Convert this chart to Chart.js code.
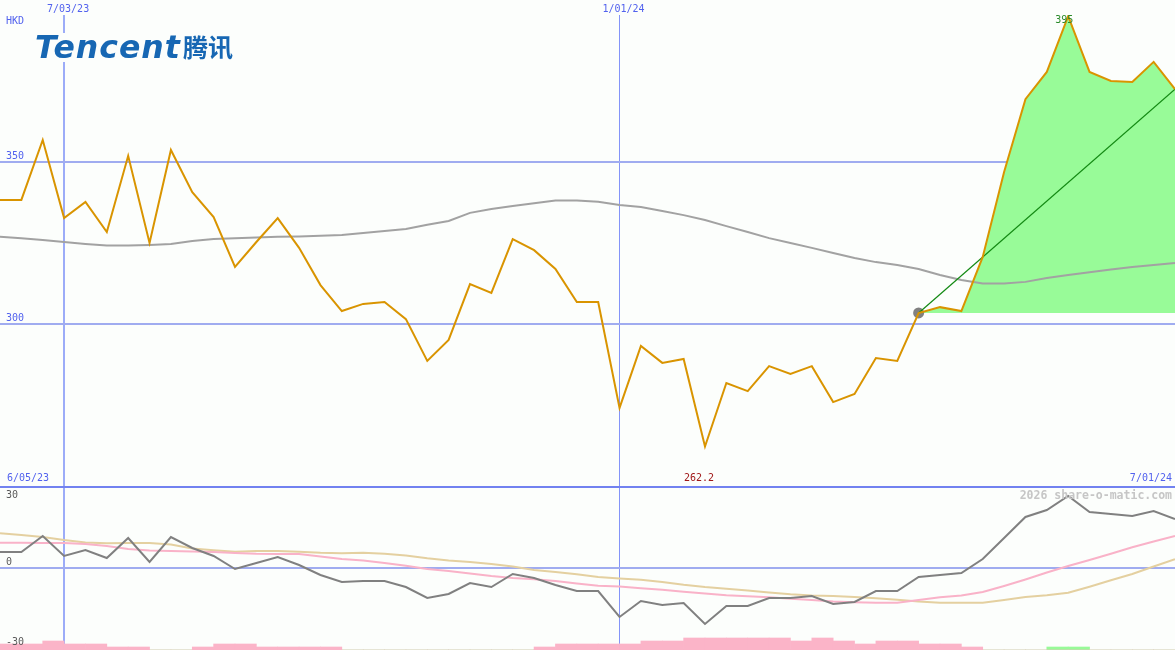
<!DOCTYPE html>
<html lang="en">
<head>
<meta charset="UTF-8">
<title>Tencent HKD</title>
<script src="https://cdn.jsdelivr.net/npm/chart.js"></script>
<style>
    body{
        margin: 0;
        background: #fcfefc;
    }
    #wrap{ position: relative; width: 1175px; height: 650px; overflow: hidden; background: #fcfefc; }
    #top{ position: absolute; left: 0; top: 0; width: 1175px; height: 487px; }
    #bottom{ position: absolute; left: 0; top: 486px; width: 1175px; height: 162px; border-top: 2px solid #7282f0; }
    .logo{ position: absolute; left: 34px; top: 33px; width: 202px; height: 29px; background: #fcfefc; color: #1767b3; }
    .logo .en{ position: absolute; left: 1px; top: -2px; font: italic bold 31.5px "DejaVu Sans", sans-serif; line-height: 32px; letter-spacing: 1px; white-space: nowrap; }
    .logo .cn{ position: absolute; left: 149px; top: 1px; font: bold 25px "Noto Sans CJK SC", sans-serif; line-height: 25px; white-space: nowrap; }
</style>
</head>
<body>
<div id="wrap">
    <div id="top"><canvas id="chart-price"></canvas></div>
    <div id="bottom"><canvas id="chart-momentum"></canvas></div>
    <div class="logo"><span class="en">Tencent</span><span class="cn">腾讯</span></div>
</div>

<script>
// weekly points, index 0 = first week on the left edge
const priceClose = [338.3, 338.3, 356.8, 332.7, 337.7, 328.4, 351.9, 325.0, 353.7, 340.7,
    333.0, 317.6, 325.3, 332.7, 323.5, 312.0, 304.0, 306.2, 306.8, 301.5,
    288.6, 295.1, 312.3, 309.6, 326.2, 322.8, 317.0, 306.8, 306.8, 274.1,
    293.2, 288.0, 289.2, 262.2, 281.8, 279.3, 287.0, 284.6, 287.0, 275.9,
    278.4, 289.5, 288.6, 303.4, 305.2, 304.0, 320.7, 346.9, 369.4, 377.8,
    395.0, 377.8, 375.0, 374.7, 380.9, 372.5]
const priceAvg = [326.9, 326.5, 325.9, 325.3, 324.7, 324.2, 324.2, 324.4, 324.7, 325.6,
    326.2, 326.5, 326.7, 326.9, 327.0, 327.2, 327.5, 328.1, 328.7, 329.3,
    330.6, 331.8, 334.3, 335.5, 336.4, 337.3, 338.1, 338.1, 337.7, 336.7,
    336.1, 334.9, 333.6, 332.1, 330.2, 328.4, 326.5, 325.0, 323.5, 321.9,
    320.4, 319.1, 318.2, 317.0, 315.1, 313.6, 312.5, 312.5, 313.0, 314.2,
    315.1, 316.0, 316.8, 317.6, 318.2, 318.8]
const momentum = [6.4, 6.4, 12.8, 4.8, 7.2, 4.0, 12.0, 2.4, 12.4, 8.0,
    4.8, -0.4, 2.0, 4.4, 1.2, -2.8, -5.6, -5.2, -5.2, -7.6,
    -12.0, -10.4, -6.0, -7.6, -2.4, -4.0, -6.8, -9.2, -9.2, -19.6,
    -13.2, -14.8, -14.0, -22.4, -15.2, -15.2, -12.0, -12.0, -11.2, -14.4,
    -13.6, -9.2, -9.2, -3.6, -2.8, -2.0, 3.6, 12.0, 20.4, 23.2,
    28.8, 22.4, 21.6, 20.8, 22.8, 19.6]
const momentumFast = [10.1, 10.1, 10.0, 10.0, 9.6, 8.8, 7.6, 7.0, 6.8, 6.6,
    6.4, 6.0, 5.7, 5.6, 5.6, 4.6, 3.6, 3.0, 2.0, 0.9,
    -0.4, -1.2, -2.2, -3.2, -4.0, -4.5, -5.2, -6.2, -7.1, -7.4,
    -8.1, -8.7, -9.5, -10.2, -10.9, -11.3, -11.7, -12.3, -12.8, -13.4,
    -13.7, -13.9, -13.9, -12.8, -11.7, -11.0, -9.6, -7.2, -4.6, -1.8,
    0.8, 3.2, 5.7, 8.3, 10.6, 12.8]
const momentumSlow = [13.9, 13.2, 12.4, 11.2, 10.2, 9.9, 10.0, 10.0, 9.4, 7.8,
    7.1, 6.5, 6.8, 6.8, 6.5, 6.1, 5.9, 6.1, 5.7, 5.0,
    3.9, 3.0, 2.4, 1.6, 0.6, -0.8, -1.6, -2.5, -3.6, -4.2,
    -4.7, -5.6, -6.7, -7.6, -8.3, -9.0, -9.8, -10.5, -11.0, -11.2,
    -11.6, -12.1, -12.7, -13.4, -13.9, -13.9, -13.9, -12.8, -11.6, -10.9,
    -9.9, -7.5, -4.9, -2.4, 0.6, 3.5]
// volume per week interval (i .. i+1)
const volumeBand = [2, 2, 3, 2, 2, 1, 1, 0, 0, 1,
    2, 2, 1, 1, 1, 1, 0, 0, 0, 0,
    0, 0, 0, 0, 0, 1, 2, 2, 2, 2,
    3, 3, 4, 4, 4, 4, 4, 3, 4, 3,
    2, 3, 3, 2, 2, 1, 0, 0, 0, 0,
    0, 0, 0, 0, 0]
const volumeUpBand = [0, 0, 0, 0, 0, 0, 0, 0, 0, 0,
    0, 0, 0, 0, 0, 0, 0, 0, 0, 0,
    0, 0, 0, 0, 0, 0, 0, 0, 0, 0,
    0, 0, 0, 0, 0, 0, 0, 0, 0, 0,
    0, 0, 0, 0, 0, 0, 0, 0, 0, 1,
    1, 0, 0, 0, 0]

const forecastFrom = 43
const dateTickPos = [3, 29]
const dateTickText = ['7/03/23', '1/01/24']
const rangeStartText = '6/05/23'
const rangeEndText = '7/01/24'
const priceTicks = [300, 350]
const momentumTicks = [-30, 0, 30]
const currency = 'HKD'
const watermark = '2026 share-o-matic.com'

const lastIdx = priceClose.length - 1
const pts = (arr, from) => arr.map((v, i) => ({x: i + from, y: v}))
const bars = (arr) => arr.map((v, i) => ({x: i + 0.5, y: v}))

const mono = {family: 'DejaVu Sans Mono', size: 10}
const noPad = (s) => { s.paddingTop = 0; s.paddingBottom = 0; s.paddingLeft = 0; s.paddingRight = 0 }

const priceText = {
    id: 'priceText',
    afterDraw(chart) {
        const {ctx, chartArea, scales: {x, y}} = chart
        ctx.save()
        ctx.font = '10px "DejaVu Sans Mono"'
        ctx.textBaseline = 'middle'
        ctx.fillStyle = '#5262ee'
        ctx.textAlign = 'left'
        ctx.fillText(currency, 6, 21)
        ctx.fillText(rangeStartText, 7, chartArea.bottom - 9)
        ctx.textAlign = 'right'
        ctx.fillText(rangeEndText, chart.width - 3, chartArea.bottom - 9)

        const hi = Math.max(...priceClose)
        const lo = Math.min(...priceClose)
        ctx.textAlign = 'center'
        ctx.fillStyle = '#2a8a2a'
        ctx.fillText(hi.toFixed(0), x.getPixelForValue(priceClose.indexOf(hi)) - 4, y.getPixelForValue(hi) + 4)
        ctx.fillStyle = '#a01818'
        ctx.fillText(lo.toFixed(1), x.getPixelForValue(priceClose.indexOf(lo)) - 6, chartArea.bottom - 9)
        ctx.restore()
    }
}

const momentumText = {
    id: 'momentumText',
    afterDraw(chart) {
        const {ctx, scales: {y}} = chart
        const nudge = [-1, -6, 2]
        ctx.save()
        ctx.textBaseline = 'middle'
        ctx.textAlign = 'left'
        ctx.font = '10px "DejaVu Sans Mono"'
        ctx.fillStyle = '#5a5a5a'
        momentumTicks.forEach((v, i) => {
            ctx.fillText(String(v), 6, y.getPixelForValue(v) + nudge[i])
        })
        ctx.font = 'bold 11.5px "DejaVu Sans Mono"'
        ctx.fillStyle = '#c6c6c6'
        ctx.textAlign = 'right'
        ctx.fillText(watermark, chart.width - 3, 8)
        ctx.restore()
    }
}

const dateGrid = {
    color: (c) => c.index === 0 ? '#9cacf8' : '#8494f8',
    lineWidth: (c) => c.index === 0 ? 2 : 1,
    drawTicks: false,
    offset: false
}

new Chart(document.getElementById('chart-price'), {
    type: 'line',
    data: {
        datasets: [
            {
                label: 'close',
                data: pts(priceClose, 0),
                borderColor: '#d99400',
                borderWidth: 2,
                order: 1
            },
            {
                label: 'trend',
                data: [{x: forecastFrom, y: priceClose[forecastFrom]}, {x: lastIdx, y: priceClose[lastIdx]}],
                borderColor: '#148a14',
                borderWidth: 1.2,
                order: 2
            },
            {
                label: 'average',
                data: pts(priceAvg, 0),
                borderColor: '#a2a2a2',
                borderWidth: 2,
                order: 3
            },
            {
                label: 'last',
                data: [{x: forecastFrom, y: priceClose[forecastFrom]}],
                showLine: false,
                pointRadius: 5.5,
                pointBorderWidth: 0,
                pointBackgroundColor: '#808080',
                order: 4
            },
            {
                label: 'ahead',
                data: pts(priceClose.slice(forecastFrom), forecastFrom),
                borderWidth: 0,
                backgroundColor: '#98fb98',
                fill: {value: priceClose[forecastFrom]},
                order: 5
            }
        ]
    },
    options: {
        responsive: true,
        maintainAspectRatio: false,
        devicePixelRatio: 1,
        animation: false,
        events: [],
        layout: {padding: 0, autoPadding: false},
        elements: {point: {radius: 0}, line: {tension: 0, fill: false}},
        plugins: {legend: {display: false}, tooltip: {enabled: false}},
        scales: {
            x: {
                type: 'linear',
                position: 'top',
                min: 0,
                max: lastIdx,
                offset: false,
                afterBuildTicks: (s) => { s.ticks = dateTickPos.map(v => ({value: v})) },
                afterFit: (s) => { s.height = 15; noPad(s) },
                ticks: {
                    callback: (v, i) => dateTickText[i],
                    color: '#5262ee',
                    font: mono,
                    padding: 0,
                    labelOffset: 4,
                    maxRotation: 0,
                    autoSkip: false
                },
                grid: dateGrid,
                border: {display: false}
            },
            y: {
                min: 249.69,
                max: 395.37,
                afterBuildTicks: (s) => { s.ticks = priceTicks.map(v => ({value: v})) },
                afterFit: (s) => { s.width = 0; noPad(s) },
                ticks: {
                    mirror: true,
                    padding: 6,
                    labelOffset: -6,
                    color: '#5262ee',
                    font: mono
                },
                grid: {color: '#a0acf0', lineWidth: 2, drawTicks: false},
                border: {display: false}
            }
        }
    },
    plugins: [priceText]
})

new Chart(document.getElementById('chart-momentum'), {
    type: 'line',
    data: {
        datasets: [
            {
                label: 'momentum',
                data: pts(momentum, 0),
                borderColor: '#808080',
                borderWidth: 2,
                order: 1
            },
            {
                label: 'fast',
                data: pts(momentumFast, 0),
                borderColor: '#f9b2c8',
                borderWidth: 2,
                order: 2
            },
            {
                label: 'slow',
                data: pts(momentumSlow, 0),
                borderColor: '#e4d0a0',
                borderWidth: 2,
                order: 3
            },
            {
                type: 'bar',
                label: 'volume',
                yAxisID: 'yv',
                data: bars(volumeBand),
                backgroundColor: '#fbb4c8',
                borderWidth: 0,
                barPercentage: 1,
                categoryPercentage: 1,
                grouped: false,
                order: 4
            },
            {
                type: 'bar',
                label: 'volume up',
                yAxisID: 'yv',
                data: bars(volumeUpBand),
                backgroundColor: '#98fa98',
                borderWidth: 0,
                barPercentage: 1,
                categoryPercentage: 1,
                grouped: false,
                order: 4
            }
        ]
    },
    options: {
        responsive: true,
        maintainAspectRatio: false,
        devicePixelRatio: 1,
        animation: false,
        events: [],
        layout: {padding: 0, autoPadding: false},
        elements: {point: {radius: 0}, line: {tension: 0, fill: false}},
        plugins: {legend: {display: false}, tooltip: {enabled: false}},
        scales: {
            x: {
                type: 'linear',
                min: 0,
                max: lastIdx,
                offset: false,
                afterBuildTicks: (s) => { s.ticks = dateTickPos.map(v => ({value: v})) },
                afterFit: (s) => { s.height = 0; noPad(s) },
                ticks: {display: false},
                grid: dateGrid,
                border: {display: false}
            },
            y: {
                min: -32.8,
                max: 32,
                afterBuildTicks: (s) => { s.ticks = [{value: 0}] },
                afterFit: (s) => { s.width = 0; noPad(s) },
                ticks: {display: false},
                grid: {color: '#a0acf0', lineWidth: 2, drawTicks: false},
                border: {display: false}
            },
            yv: {
                display: false,
                min: 0,
                max: 54
            }
        }
    },
    plugins: [momentumText]
})
</script>
</body>
</html>
